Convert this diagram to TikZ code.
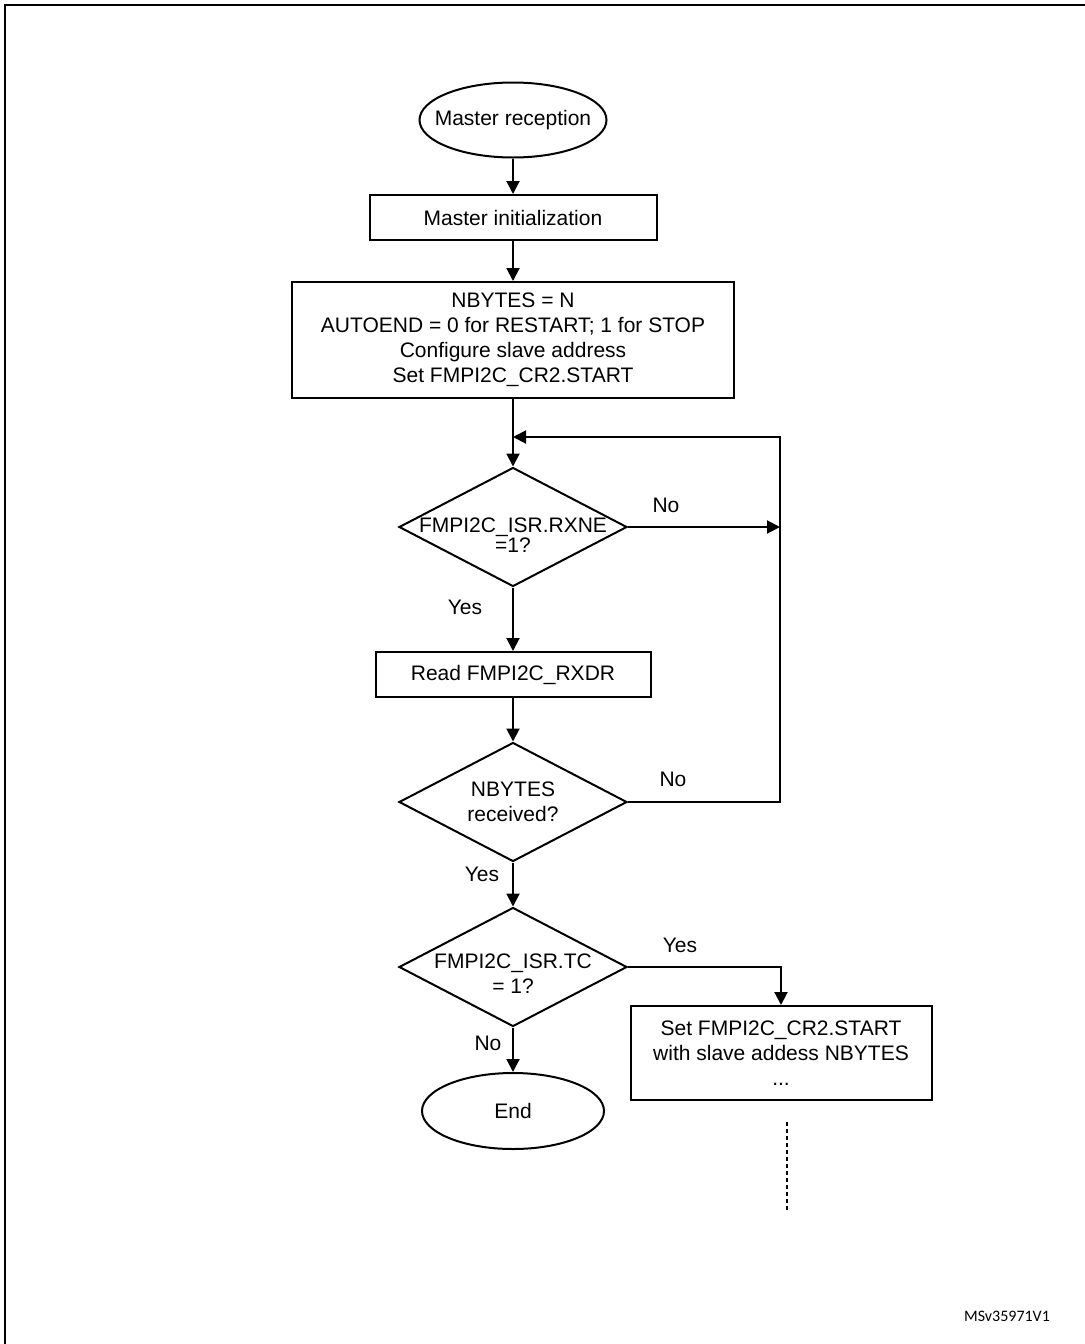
\documentclass[tikz,border=0pt]{standalone}
\usepackage{fontspec}
\setmainfont{Liberation Sans}
\newfontfamily\idfont{Carlito}
\usepackage{tikz}
\usetikzlibrary{shapes.geometric}
\usetikzlibrary{arrows.meta}

\tikzset{
  flowline/.style={line width=1pt},
  flowarrow/.style={line width=1pt, -{Triangle[length=6.5pt,width=6.5pt]}},
  terminal/.style={ellipse, draw, line width=1pt, inner sep=0pt},
  process/.style={rectangle, draw, line width=1pt, inner sep=0pt, align=center},
  decision/.style={diamond, draw, line width=1pt, inner sep=0pt,
    minimum width=114pt, minimum height=59.5pt},
  branch/.style={inner sep=0pt},
}

\begin{document}
\begin{tikzpicture}[x=0.5pt, y=-0.5pt, font=\fontsize{10.5}{12.5}\selectfont]
  \useasboundingbox (0,0) rectangle (1085,1344);

  % Frame round the figure
  \draw[line width=0.8pt] (1085,5) -- (5,5) -- (5,1344);

  % Main column of the flowchart
  \node[terminal, minimum width=93.5pt, minimum height=37.5pt,
    label={center:Master reception}] (start) at (513,120) {};
  \node[process, minimum width=143.5pt, minimum height=22.5pt] (init) at (513,217.5) {Master initialization};
  \node[process, minimum width=221pt, minimum height=58pt] (setup) at (513,340)
    {NBYTES = N\\AUTOEND = 0 for RESTART; 1 for STOP\\Configure slave address\\Set FMPI2C\_CR2.START};
  \node[decision, label={[align=center, yshift=-4pt]center:{FMPI2C\_ISR.RXNE\\[-2.5pt]=1?}}] (rxne) at (513,527) {};
  \node[process, minimum width=137.5pt, minimum height=22.5pt] (read) at (513,674.5) {Read FMPI2C\_RXDR};
  \node[decision, label={[align=center]center:{NBYTES\\received?}}] (nbytes) at (513,802) {};
  \node[decision, label={[align=center, yshift=-3.5pt]center:{FMPI2C\_ISR.TC\\= 1?}}] (tc) at (513,967) {};
  \node[terminal, minimum width=91pt, minimum height=38pt, label={center:End}] (finish) at (513,1111) {};

  % Restart branch
  \node[process, minimum width=150.5pt, minimum height=47pt] (restart) at (781,1053)
    {Set FMPI2C\_CR2.START\\with slave addess NBYTES\\...};

  % Corners of the loop back
  \coordinate (loopin) at (513,437);
  \coordinate (looptop) at (780,437);
  \coordinate (rxneside) at (780,527);
  \coordinate (nbyteside) at (780,802);

  % Connectors down the main column
  \draw[flowarrow] (start) -- (init);
  \draw[flowarrow] (init) -- (setup);
  \draw[flowarrow] (setup) -- (rxne);
  \draw[flowarrow] (rxne) -- (read);
  \draw[flowarrow] (read) -- (nbytes);
  \draw[flowarrow] (nbytes) -- (tc);
  \draw[flowarrow] (tc) -- (finish);

  % Loop back to the RXNE test
  \draw[flowarrow] (rxne.east) -- (rxneside);
  \draw[flowarrow] (nbytes.east) -- (nbyteside) -- (looptop) -- (loopin);

  % Yes branch to the restart box
  \draw[flowarrow] (tc.east) -| (restart.north);

  % Continuation below the restart box
  \coordinate (tailtop) at (787,1122);
  \coordinate (tailend) at (787,1212);
  \draw[line width=1pt, dash pattern=on 2pt off 1.5pt] (tailtop) -- (tailend);

  % Branch labels
  \node[branch] (rxneno) at (666,505) {No};
  \node[branch] (rxneyes) at (465,607) {Yes};
  \node[branch] (nbytesno) at (673,779) {No};
  \node[branch] (nbytesyes) at (482,874) {Yes};
  \node[branch] (tcyes) at (680,945) {Yes};
  \node[branch] (tcno) at (488,1043) {No};

  % Document number
  \node[font=\idfont\fontsize{8}{9}\selectfont] (docid) at (1007,1316) {MSv35971V1};
\end{tikzpicture}
\end{document}
